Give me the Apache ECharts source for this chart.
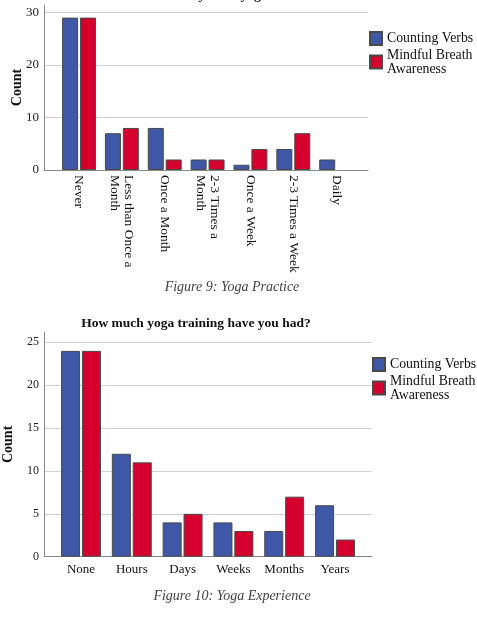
<!DOCTYPE html>
<html>
<head>
<meta charset="utf-8">
<script src="https://cdn.jsdelivr.net/npm/echarts@6/dist/echarts.min.js"></script>
<style>
  html, body { margin: 0; padding: 0; background: #fff; }
  #main { width: 477px; height: 618px; }
</style>
</head>
<body>
<div id="main"></div>
<script>
// figure 9 - how often
var practiceCats = ['Never', 'Less than Once a\nMonth', 'Once a Month', '2-3 Times a\nMonth', 'Once a Week', '2-3 Times a Week', 'Daily'];
var practiceVerbs = [29, 7, 8, 2, 1, 4, 2];
var practiceBreath = [29, 8, 2, 2, 4, 7, 0];
var practiceTicks = [0, 10, 20, 30];

// figure 10 - training
var trainingCats = ['None', 'Hours', 'Days', 'Weeks', 'Months', 'Years'];
var trainingVerbs = [24, 12, 4, 4, 3, 6];
var trainingBreath = [24, 11, 5, 3, 7, 2];
var trainingTicks = [0, 5, 10, 15, 20, 25];

var seriesNames = ['Counting Verbs', 'Mindful Breath\nAwareness'];

var serif = "'Liberation Serif', 'Times New Roman', serif";
var blue = '#3e57a7';
var red = '#d6002e';
var gridColor = '#d3d3d3';
var axisColor = '#8a8a8a';

function gridLineColors(ticks) {
    // last tick is the axis max, keep it invisible
    var c = ticks.map(function() { return gridColor; });
    c.push('rgba(0,0,0,0)');
    return c;
}

// empty bars (count 0) get no outline, like SPSS
function noZero(arr) {
    return arr.map(function(v) { return v === 0 ? null : v; });
}

var myChart = echarts.init(document.getElementById('main'));

var option = {
    backgroundColor: '#ffffff',
    textStyle: { fontFamily: serif },
    animation: false,
    title: [
        {
            text: 'How often do you do yoga?',
            left: 196, top: -11, textAlign: 'center', padding: 0,
            textStyle: { fontFamily: serif, fontSize: 13.5, fontWeight: 'bold', color: '#111' }
        },
        {
            text: 'Figure 9: Yoga Practice',
            left: 232, top: 280, textAlign: 'center', padding: 0,
            textStyle: { fontFamily: serif, fontSize: 14, fontStyle: 'italic', fontWeight: 'normal', color: '#444' }
        },
        {
            text: 'How much yoga training have you had?',
            left: 196, top: 317, textAlign: 'center', padding: 0,
            textStyle: { fontFamily: serif, fontSize: 13.5, fontWeight: 'bold', color: '#111' }
        },
        {
            text: 'Figure 10: Yoga Experience',
            left: 232, top: 589, textAlign: 'center', padding: 0,
            textStyle: { fontFamily: serif, fontSize: 14, fontStyle: 'italic', fontWeight: 'normal', color: '#444' }
        }
    ],
    legend: [
        {
            data: seriesNames,
            orient: 'vertical',
            left: 369, top: 31,
            padding: 0,
            itemWidth: 12, itemHeight: 13, itemGap: 2,
            icon: 'rect',
            textStyle: { fontFamily: serif, fontSize: 13.8, color: '#111', lineHeight: 14 }
        },
        {
            data: seriesNames,
            orient: 'vertical',
            left: 372, top: 357,
            padding: 0,
            itemWidth: 12, itemHeight: 13, itemGap: 2,
            icon: 'rect',
            textStyle: { fontFamily: serif, fontSize: 13.8, color: '#111', lineHeight: 14 }
        }
    ],
    grid: [
        { left: 44, top: 5, width: 324, height: 165, outerBoundsMode: 'none' },
        { left: 57.6, top: 5, width: 300, height: 165, outerBoundsMode: 'none' },
        { left: 44, top: 332, width: 328, height: 224.7, outerBoundsMode: 'none' },
        { left: 55.6, top: 332, width: 304.8, height: 224.7, outerBoundsMode: 'none' }
    ],
    xAxis: [
        {
            gridIndex: 0, type: 'value', min: 0, max: 1,
            axisLine: { show: true, lineStyle: { color: axisColor } },
            axisTick: { show: false }, axisLabel: { show: false }, splitLine: { show: false }
        },
        {
            gridIndex: 1, type: 'category', data: practiceCats,
            axisLine: { show: false }, axisTick: { show: false },
            axisLabel: { rotate: -90, margin: 5, interval: 0, fontFamily: serif, fontSize: 13.5, color: '#111', lineHeight: 14 }
        },
        {
            gridIndex: 2, type: 'value', min: 0, max: 1,
            axisLine: { show: true, lineStyle: { color: axisColor } },
            axisTick: { show: false }, axisLabel: { show: false }, splitLine: { show: false }
        },
        {
            gridIndex: 3, type: 'category', data: trainingCats,
            axisLine: { show: false }, axisTick: { show: false },
            axisLabel: { margin: 6, interval: 0, fontFamily: serif, fontSize: 13, color: '#111' }
        }
    ],
    yAxis: [
        {
            gridIndex: 0, type: 'value', min: 0, max: 31.4, interval: 10,
            name: 'Count', nameLocation: 'middle', nameGap: 20, nameMoveOverlap: false,
            nameTextStyle: { fontFamily: serif, fontSize: 14, fontWeight: 'bold', color: '#111' },
            axisLine: { show: true, lineStyle: { color: axisColor } },
            axisTick: { show: false },
            axisLabel: {
                margin: 5, fontFamily: serif, fontSize: 13, color: '#222',
                formatter: function(v) { return practiceTicks.indexOf(v) >= 0 ? v : ''; }
            },
            splitLine: { show: true, lineStyle: { color: gridLineColors(practiceTicks) } }
        },
        { gridIndex: 1, type: 'value', min: 0, max: 31.4, show: false },
        {
            gridIndex: 2, type: 'value', min: 0, max: 26.2, interval: 5,
            name: 'Count', nameLocation: 'middle', nameGap: 29, nameMoveOverlap: false,
            nameTextStyle: { fontFamily: serif, fontSize: 14, fontWeight: 'bold', color: '#111' },
            axisLine: { show: true, lineStyle: { color: axisColor } },
            axisTick: { show: false },
            axisLabel: {
                margin: 5, fontFamily: serif, fontSize: 12, color: '#222',
                formatter: function(v) { return trainingTicks.indexOf(v) >= 0 ? v : ''; }
            },
            splitLine: { show: true, lineStyle: { color: gridLineColors(trainingTicks) } }
        },
        { gridIndex: 3, type: 'value', min: 0, max: 26.2, show: false }
    ],
    series: [
        {
            name: seriesNames[0], type: 'bar', xAxisIndex: 1, yAxisIndex: 1,
            barWidth: 16, barGap: '12%',
            itemStyle: { color: blue, borderColor: '#4a4a4a', borderWidth: 1 },
            data: noZero(practiceVerbs)
        },
        {
            name: seriesNames[1], type: 'bar', xAxisIndex: 1, yAxisIndex: 1,
            barWidth: 16, barGap: '12%',
            itemStyle: { color: red, borderColor: '#4a4a4a', borderWidth: 1 },
            data: noZero(practiceBreath)
        },
        {
            name: seriesNames[0], type: 'bar', xAxisIndex: 3, yAxisIndex: 3,
            barWidth: 19, barGap: '10%',
            itemStyle: { color: blue, borderColor: '#4a4a4a', borderWidth: 1 },
            data: noZero(trainingVerbs)
        },
        {
            name: seriesNames[1], type: 'bar', xAxisIndex: 3, yAxisIndex: 3,
            barWidth: 19, barGap: '10%',
            itemStyle: { color: red, borderColor: '#4a4a4a', borderWidth: 1 },
            data: noZero(trainingBreath)
        }
    ]
};

myChart.setOption(option);
</script>
</body>
</html>
